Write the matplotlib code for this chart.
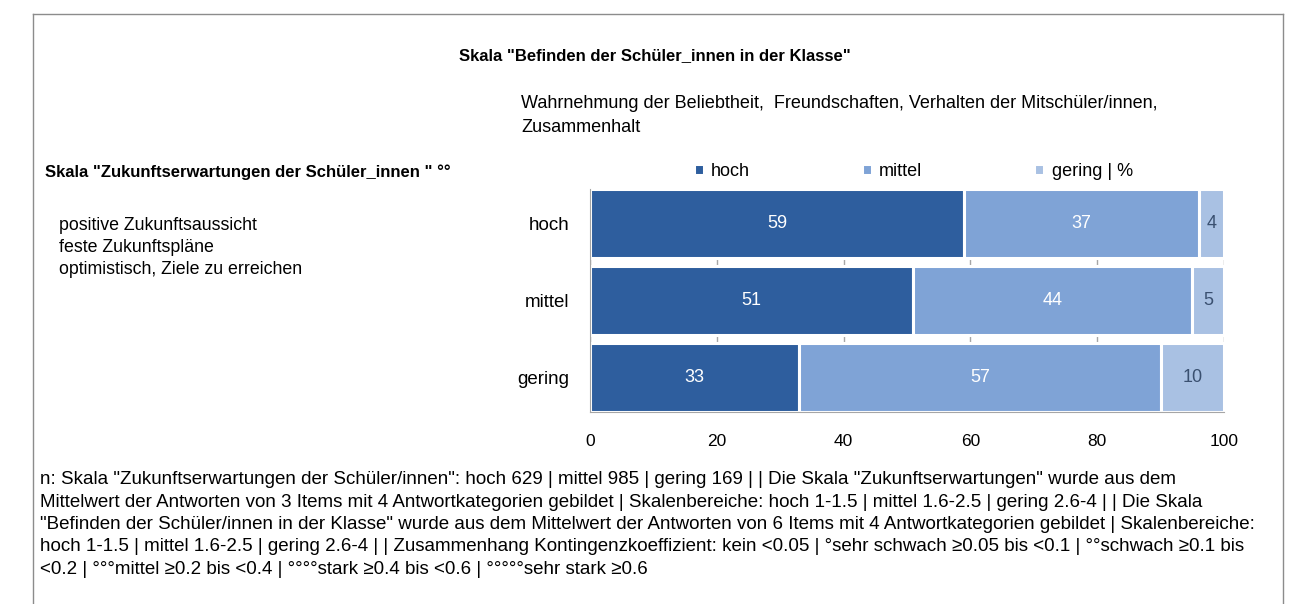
import matplotlib.pyplot as plt
from matplotlib.lines import Line2D

plt.rcParams["font.family"] = ["Liberation Sans", "DejaVu Sans"]

CATEGORIES = ["hoch", "mittel", "gering"]
SERIES = ["hoch", "mittel", "gering | %"]
HOCH = [59, 51, 33]
MITTEL = [37, 44, 57]
GERING = [4, 5, 10]
COLORS = ["#2E5E9E", "#7FA3D6", "#A9C1E3"]
LABEL_COLORS = ["white", "white", "#3A5070"]
XTICKS = [0, 20, 40, 60, 80, 100]

FOOTNOTE = [
    'n: Skala "Zukunftserwartungen der Schüler/innen": hoch 629 | mittel 985 | gering 169 | | Die Skala "Zukunftserwartungen" wurde aus dem',
    "Mittelwert der Antworten von 3 Items mit 4 Antwortkategorien gebildet | Skalenbereiche: hoch 1-1.5 | mittel 1.6-2.5 | gering 2.6-4 | | Die Skala",
    '"Befinden der Schüler/innen in der Klasse" wurde aus dem Mittelwert der Antworten von 6 Items mit 4 Antwortkategorien gebildet | Skalenbereiche:',
    "hoch 1-1.5 | mittel 1.6-2.5 | gering 2.6-4 | | Zusammenhang Kontingenzkoeffizient: kein <0.05 | °sehr schwach ≥0.05 bis <0.1 | °°schwach ≥0.1 bis",
    "<0.2 | °°°mittel ≥0.2 bis <0.4 | °°°°stark ≥0.4 bis <0.6 | °°°°°sehr stark ≥0.6",
]

W, H = 1290, 604


def fx(px):
    return px / W


def fy(py):
    return 1 - py / H


fig = plt.figure(figsize=(W / 100, H / 100), dpi=100)

# frame around the chart area
for xs, ys in [((33, 33), (14, 604)), ((1283, 1283), (14, 604)), ((33, 1283), (14, 14))]:
    fig.add_artist(Line2D([fx(x) for x in xs], [fy(y) for y in ys], color="#8C8C8C", lw=1))

ax = fig.add_axes([fx(590), fy(412), fx(1224) - fx(590), fy(189) - fy(412)])
ax.set_axisbelow(True)
ax.grid(axis="x", color="#A6A6A6", lw=1)

y = list(range(len(CATEGORIES)))
left = [0] * len(CATEGORIES)
for vals, name, col, lcol in zip([HOCH, MITTEL, GERING], SERIES, COLORS, LABEL_COLORS):
    bars = ax.barh(y, vals, left=left, height=0.9, color=col, edgecolor="white",
                   linewidth=2.2, label=name)
    ax.bar_label(bars, labels=[str(v) for v in vals], label_type="center",
                 color=lcol, fontsize=13)
    left = [a + b for a, b in zip(left, vals)]

ax.set_ylim(2.45, -0.45)
ax.set_xlim(0, 100)
ax.set_xticks(XTICKS)
ax.set_yticks(y)
ax.set_yticklabels(CATEGORIES, fontsize=13.5)
ax.tick_params(axis="x", labelsize=12.5, length=0, pad=16)
ax.tick_params(axis="y", length=0, pad=15)
for s in ["top", "right"]:
    ax.spines[s].set_visible(False)
ax.spines["left"].set_color("#A6A6A6")
ax.spines["bottom"].set_color("#A6A6A6")

ax.legend(loc="lower center", bbox_to_anchor=(0.51, 1.01), ncol=3, frameon=False,
          fontsize=13, handlelength=0.55, handleheight=0.55, columnspacing=6.2,
          handletextpad=0.4, borderaxespad=0.0)

fig.text(fx(655), fy(56), 'Skala "Befinden der Schüler_innen in der Klasse"',
         ha="center", va="center", fontsize=12, fontweight="bold")
fig.text(fx(521), fy(103), "Wahrnehmung der Beliebtheit,  Freundschaften, Verhalten der Mitschüler/innen,",
         ha="left", va="center", fontsize=13)
fig.text(fx(521), fy(127), "Zusammenhalt", ha="left", va="center", fontsize=13)
fig.text(fx(45), fy(172), 'Skala "Zukunftserwartungen der Schüler_innen " °°',
         ha="left", va="center", fontsize=12, fontweight="bold")
for i, line in enumerate(["positive Zukunftsaussicht", "feste Zukunftspläne",
                          "optimistisch, Ziele zu erreichen"]):
    fig.text(fx(59), fy(226 + 22 * i), line, ha="left", va="center", fontsize=12.8)

for i, line in enumerate(FOOTNOTE):
    fig.text(fx(40), fy(480 + 22.3 * i), line, ha="left", va="center", fontsize=13.5)

fig.savefig("out.png", dpi=100)
